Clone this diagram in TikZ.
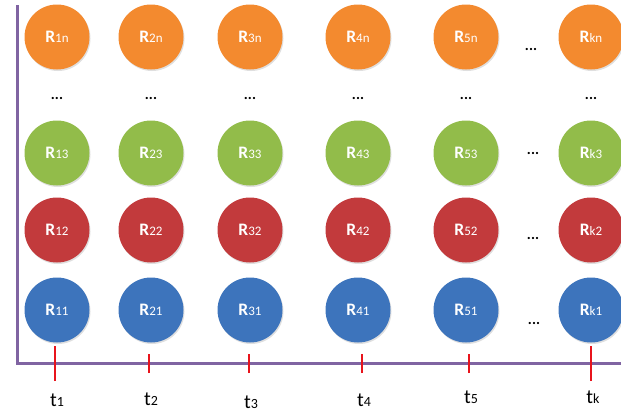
\documentclass[tikz,border=0pt]{standalone}
\usepackage{fontspec}
\setmainfont{Carlito}
\usetikzlibrary{shadows}
\definecolor{rorange}{HTML}{F38A2F}
\definecolor{rgreen}{HTML}{92BC4A}
\definecolor{rred}{HTML}{C23A3C}
\definecolor{rblue}{HTML}{3D74BC}
\definecolor{axispurple}{HTML}{8064A2}
\definecolor{tickred}{HTML}{E8141C}

\tikzset{
  ball/.style={circle, minimum size=65pt, inner sep=0pt, fill=#1, text=white,
    drop shadow={opacity=0.25, shadow xshift=1pt, shadow yshift=-1.5pt}},
  dotsnode/.style={inner sep=0pt, font=\fontsize{15}{15}\selectfont\bfseries},
  timelabel/.style={inner sep=0pt, font=\fontsize{20}{20}\selectfont},
  axisline/.style={draw=axispurple, line width=3pt},
  tickmark/.style={draw=tickred, line width=2.8pt}
}
\newcommand{\rlabel}[1]{{\fontsize{17.5}{17.5}\selectfont\bfseries R}{\fontsize{13}{13}\selectfont #1}}
\newcommand{\tlabel}[1]{t{\fontsize{14}{14}\selectfont #1}}

\begin{document}
\begin{tikzpicture}[x=1pt, y=-1pt]
  \useasboundingbox (0,0) rectangle (621,413);

  % axes
  \coordinate (top) at (17,5);
  \coordinate (origin) at (17,363);
  \coordinate (right) at (621,363);
  \draw[axisline] (top) -- (origin) -- (right);

  % balls R_{column row}
  \foreach \c/\x in {1/57, 2/151, 3/250, 4/358, 5/466, k/591} {
    \node[ball=rblue]   (r\c-1) at (\x,310) {\rlabel{\c1}};
    \node[ball=rred]    (r\c-2) at (\x,230) {\rlabel{\c2}};
    \node[ball=rgreen]  (r\c-3) at (\x,153) {\rlabel{\c3}};
    \node[ball=rorange] (r\c-n) at (\x,37)  {\rlabel{\c n}};
    \node[dotsnode]     (d\c)   at (\x,98)  {...};
  }

  % dots between column 5 and column k
  \node[dotsnode] (dn) at (531,49)  {...};
  \node[dotsnode] (d3) at (533,153) {...};
  \node[dotsnode] (d2) at (533,238) {...};
  \node[dotsnode] (d1) at (534,323) {...};

  % ticks and time labels
  \foreach \i/\x/\h/\ly in {1/55/17.5/400, 2/149/9.5/399, 3/249/9.5/402, 4/362/9.5/400, 5/469/9.5/397, k/591/17.5/397} {
    \coordinate (tick\i) at (\x,363.5);
    \draw[tickmark] ([yshift=-\h pt]tick\i) -- ([yshift=\h pt]tick\i);
    \node[timelabel] (t\i) at (\x+2,\ly) {\tlabel{\i}};
  }
\end{tikzpicture}
\end{document}
